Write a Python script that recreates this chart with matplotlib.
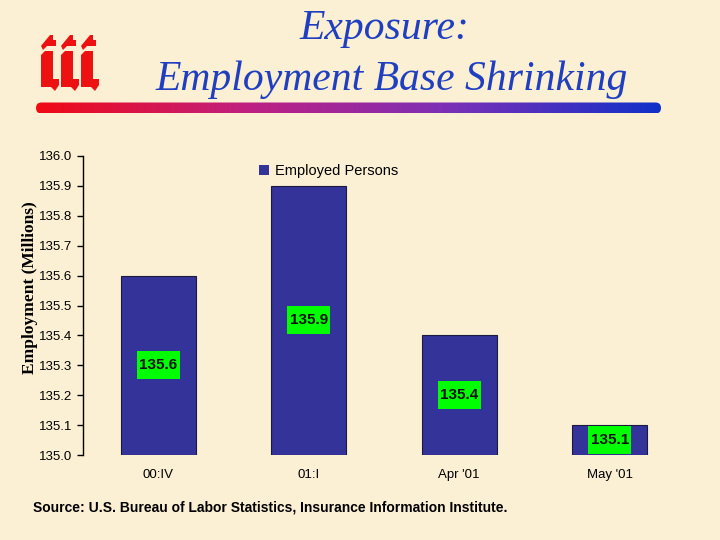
import numpy as np
import matplotlib
matplotlib.use("Agg")
import matplotlib.pyplot as plt
from matplotlib.patches import Patch, Polygon, FancyBboxPatch, Rectangle
from matplotlib.transforms import ScaledTranslation

# ---------------------------------------------------------------- data -------
categories = ["00:IV", "01:I", "Apr '01", "May '01"]
employed = [135.6, 135.9, 135.4, 135.1]
yticks = [135.0, 135.1, 135.2, 135.3, 135.4, 135.5, 135.6, 135.7, 135.8, 135.9, 136.0]
BASE = 135.0

BG = "#FCF0D4"
BAR = "#333399"
TITLE_BLUE = "#1F3FC0"

fig = plt.figure(figsize=(7.2, 5.4), dpi=100, facecolor=BG)

# overlay in pixel coordinates for the decorations
deco = fig.add_axes([0, 0, 1, 1], zorder=0)
deco.set_xlim(0, 720)
deco.set_ylim(540, 0)
deco.axis("off")
deco.patch.set_alpha(0)

# title
deco.text(384, 29, "Exposure:", fontsize=30, family="Liberation Serif",
          style="italic", color=TITLE_BLUE, ha="center", va="center")
deco.text(392, 80, "Employment Base Shrinking", fontsize=30,
          family="Liberation Serif", style="italic", color=TITLE_BLUE,
          ha="center", va="center")

# gradient rule under the title (red -> blue), rounded ends
x0, x1, yc, hh = 36, 661, 108, 5.5
grad = np.linspace(0, 1, 256).reshape(1, -1)
cmap = matplotlib.colors.LinearSegmentedColormap.from_list(
    "rb", ["#F00A14", "#C02080", "#7A30B8", "#1030C8"])
im = deco.imshow(grad, cmap=cmap, aspect="auto",
                 extent=[x0, x1, yc + hh, yc - hh], zorder=1)
clip = FancyBboxPatch((x0 + hh, yc), (x1 - x0) - 2 * hh, 0,
                      boxstyle=f"round,pad={hh},rounding_size={hh}",
                      transform=deco.transData, facecolor="none",
                      edgecolor="none")
deco.add_patch(clip)
im.set_clip_path(clip)
deco.set_xlim(0, 720)
deco.set_ylim(540, 0)

# "iii" logo, three blackletter-like stems with slanted flags and feet
RED = "#EE1111"
for lx in (41, 61, 81):
    flag = [(lx, 46), (lx + 9, 35), (lx + 12, 35), (lx + 12, 40),
            (lx + 15, 40), (lx + 15, 46), (lx + 6, 46), (lx + 2, 50)]
    stem = [(lx, 55), (lx + 4, 51), (lx + 12, 51), (lx + 12, 79),
            (lx + 18, 79), (lx + 18, 85), (lx + 14, 91), (lx + 10, 87),
            (lx, 87)]
    deco.add_patch(Polygon(flag, closed=True, facecolor=RED,
                           edgecolor="none", zorder=2))
    deco.add_patch(Polygon(stem, closed=True, facecolor=RED,
                           edgecolor="none", zorder=2))

# source line
deco.text(33, 508, "Source: U.S. Bureau of Labor Statistics, Insurance Information Institute.",
          fontsize=10, family="Liberation Sans", fontweight="bold",
          ha="left", va="center", color="black")

# y-label
deco.text(30, 288, "Employment (Millions)", fontsize=12.5,
          family="Liberation Serif", fontweight="bold", rotation=90,
          ha="center", va="center", color="black")

# ---------------------------------------------------------------- chart ------
ax = fig.add_axes([83 / 720, 1 - 455 / 540, 602 / 720, 299 / 540], zorder=2)
ax.patch.set_alpha(0)
x = np.arange(len(categories))
vals = np.array(employed)
ax.bar(x, vals - BASE, bottom=BASE, width=0.5, color=BAR,
       edgecolor="#1A1A40", linewidth=0.8, label="Employed Persons")

# green value boxes at mid-bar, fixed 43x28 px
for xi, v in zip(x, vals):
    yc_bar = (BASE + v) / 2
    tr = fig.dpi_scale_trans + ScaledTranslation(xi, yc_bar, ax.transData)
    ax.add_patch(Rectangle((-0.215, -0.14), 0.43, 0.28, transform=tr,
                           facecolor="#00FF00", edgecolor="none", zorder=4))
    ax.text(xi, yc_bar, f"{v:.1f}", ha="center", va="center",
            fontsize=11, family="Liberation Sans", fontweight="bold",
            color="#111111", zorder=5)

ax.set_xlim(-0.5, len(categories) - 0.5)
ax.set_ylim(BASE, 136.0)
ax.set_yticks(yticks)
ax.set_yticklabels([f"{t:.1f}" for t in yticks], family="Liberation Sans",
                   fontsize=9.5)
ax.set_xticks(x)
ax.set_xticklabels(categories, family="Liberation Sans", fontsize=9.5)
ax.tick_params(axis="x", length=0, pad=10)
ax.tick_params(axis="y", length=4, width=1, pad=4, direction="out")
for sp in ("top", "right", "bottom"):
    ax.spines[sp].set_visible(False)
ax.spines["left"].set_linewidth(1)

ax.legend(handles=[Patch(facecolor=BAR, edgecolor="none",
                         label="Employed Persons")],
          loc="upper left", bbox_to_anchor=(0.27, 1.018), frameon=False,
          handlelength=0.7, handleheight=0.7, handletextpad=0.4,
          prop={"family": "Liberation Sans", "size": 10.5})

fig.savefig("out.png", dpi=100, facecolor=BG)
